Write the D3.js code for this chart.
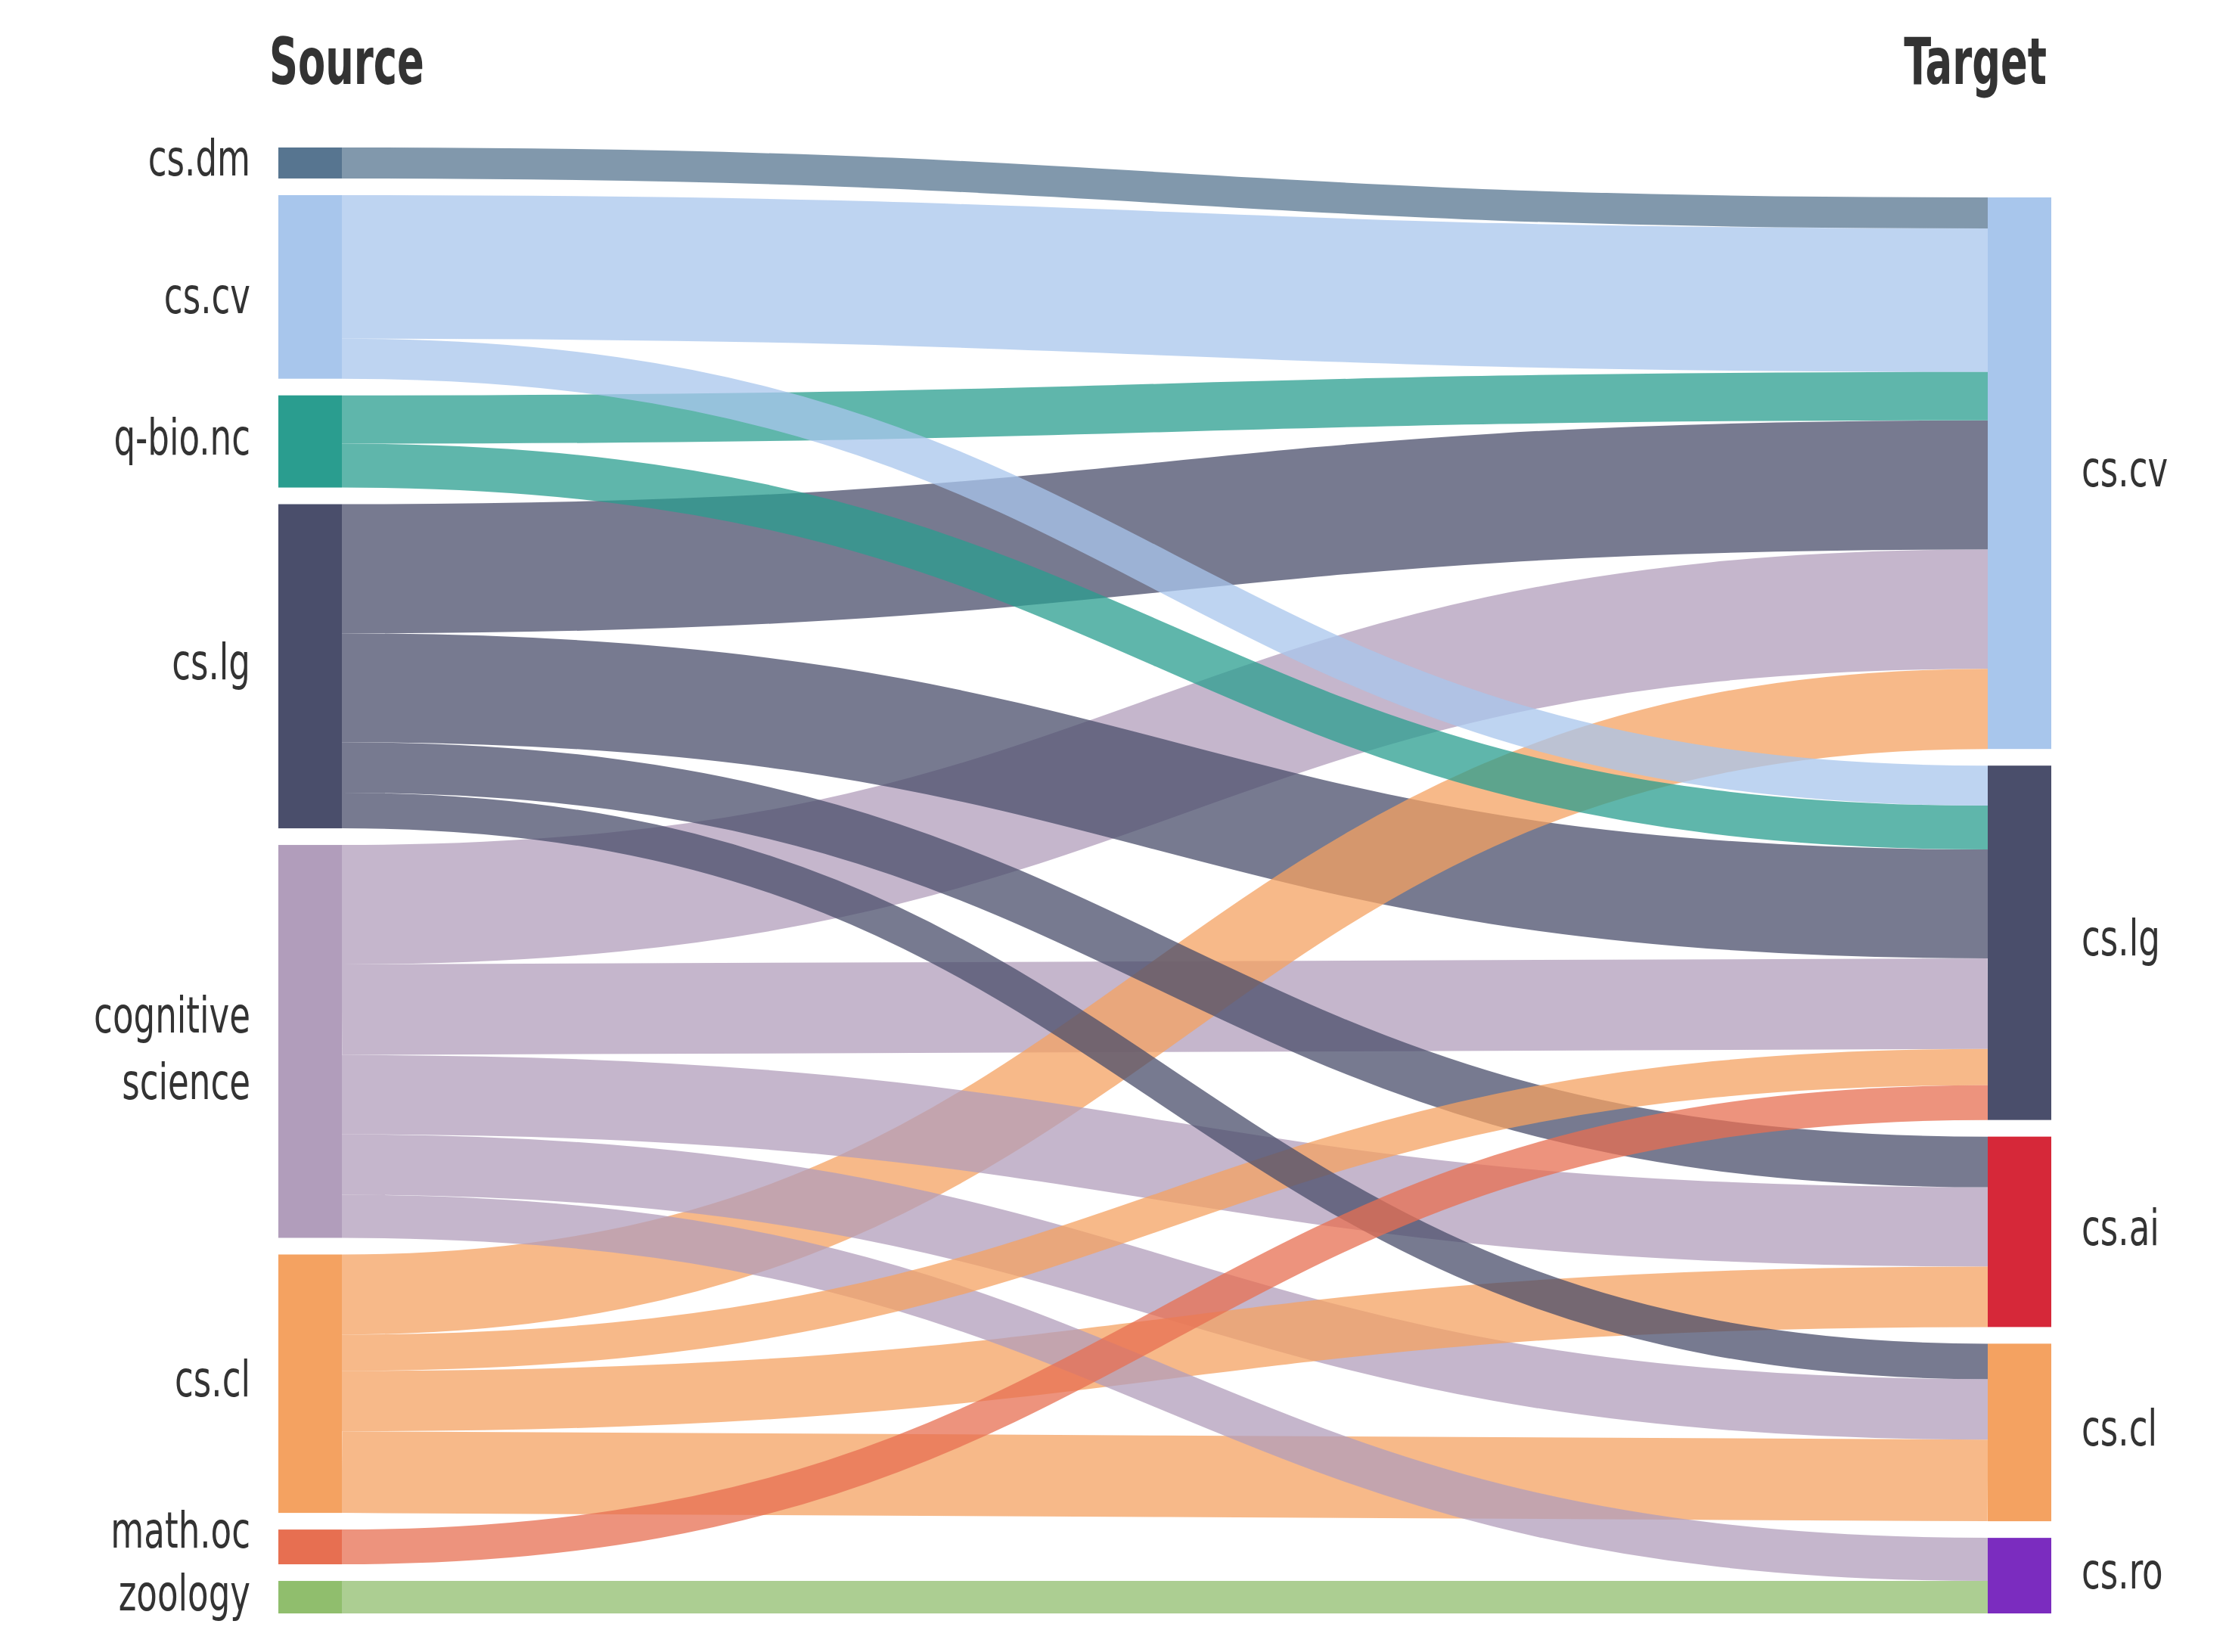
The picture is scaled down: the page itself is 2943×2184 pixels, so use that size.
<!DOCTYPE html>
<html>
<head>
<meta charset="utf-8">
<script src="https://cdn.jsdelivr.net/npm/d3@7"></script>
<style>
  html, body { margin: 0; padding: 0; background: #fff; }
  svg { display: block; }
  text { font-family: 'Liberation Sans Narrow', 'DejaVu Sans Condensed', 'DejaVu Sans', sans-serif; font-stretch: condensed; fill: #333; }
</style>
</head>
<body>
<svg id="chart" width="2943" height="2184"></svg>
<script>
// ---------- data ----------
const sourceNodes = ["cs.dm", "cs.cv", "q-bio.nc", "cs.lg", "cognitive science", "cs.cl", "math.oc", "zoology"];
const targetNodes = ["cs.cv", "cs.lg", "cs.ai", "cs.cl", "cs.ro"];
const linkSource = ["cs.dm", "cs.cv", "cs.cv", "q-bio.nc", "q-bio.nc", "cs.lg", "cs.lg", "cs.lg", "cs.lg",
  "cognitive science", "cognitive science", "cognitive science", "cognitive science", "cognitive science",
  "cs.cl", "cs.cl", "cs.cl", "cs.cl", "math.oc", "zoology"];
const linkTarget = ["cs.cv", "cs.cv", "cs.lg", "cs.cv", "cs.lg", "cs.cv", "cs.lg", "cs.ai", "cs.cl",
  "cs.cv", "cs.lg", "cs.ai", "cs.cl", "cs.ro",
  "cs.cv", "cs.lg", "cs.ai", "cs.cl", "cs.lg", "cs.ro"];
const linkValue = [41, 190, 53, 64, 58, 171, 144, 67, 47, 158, 120, 105, 80, 57, 106, 48, 80, 108, 46, 43];
const nodeColor = {
  "cs.dm": "#577590", "cs.cv": "#a8c6ec", "q-bio.nc": "#2a9d8f", "cs.lg": "#4a4e6b",
  "cognitive science": "#b19dbb", "cs.cl": "#f4a261", "math.oc": "#e76f51", "zoology": "#90be6d",
  "cs.ai": "#d62839", "cs.ro": "#7b2cbf"
};
const columnTitles = ["Source", "Target"];

// ---------- layout ----------
const yTop = 195, yBottom = 2133;
const nodeW = 84, pad = 22;
const xL = 368, xR = 2628;
const svg = d3.select("#chart");

const links = linkSource.map((s, i) => ({ source: s, target: linkTarget[i], value: linkValue[i] }));
const total = d3.sum(linkValue);
const maxN = Math.max(sourceNodes.length, targetNodes.length);
const y = d3.scaleLinear().domain([0, total]).range([0, (yBottom - yTop) - (maxN - 1) * pad]);

function buildColumn(names, key, x, alignBottom) {
  const nodes = names.map(n => ({ name: n, value: d3.sum(links.filter(l => l[key] === n), l => l.value) }));
  const colH = d3.sum(nodes, n => y(n.value)) + (nodes.length - 1) * pad;
  let cy = alignBottom ? yBottom - colH : yTop;
  nodes.forEach(n => { n.x0 = x; n.x1 = x + nodeW; n.y0 = cy; n.y1 = cy + y(n.value); cy = n.y1 + pad; });
  return nodes;
}
const left = buildColumn(sourceNodes, "source", xL, false);
const right = buildColumn(targetNodes, "target", xR, true);
const L = Object.fromEntries(left.map(n => [n.name, n]));
const R = Object.fromEntries(right.map(n => [n.name, n]));

left.forEach(n => {
  let cy = n.y0;
  links.filter(l => l.source === n.name)
    .sort((a, b) => R[a.target].y0 - R[b.target].y0)
    .forEach(l => { l.w = y(l.value); l.sy = cy + l.w / 2; cy += l.w; });
});
right.forEach(n => {
  let cy = n.y0;
  links.filter(l => l.target === n.name)
    .sort((a, b) => L[a.source].y0 - L[b.source].y0)
    .forEach(l => { l.ty = cy + y(l.value) / 2; cy += y(l.value); });
});

const linkGen = d3.linkHorizontal()
  .source(d => [L[d.source].x1, d.sy])
  .target(d => [R[d.target].x0, d.ty]);

svg.append("g")
  .selectAll("path")
  .data(links.slice().sort((a, b) => b.value - a.value))
  .join("path")
  .attr("d", linkGen)
  .attr("fill", "none")
  .attr("stroke", d => nodeColor[d.source])
  .attr("stroke-opacity", 0.75)
  .attr("stroke-width", d => d.w);

svg.append("g")
  .selectAll("rect")
  .data(left.concat(right))
  .join("rect")
  .attr("x", d => d.x0).attr("y", d => d.y0)
  .attr("width", d => d.x1 - d.x0).attr("height", d => d.y1 - d.y0)
  .attr("fill", d => nodeColor[d.name]);

// labels (condensed horizontally to mimic the narrow face of the original)
const fs = 66, sx = 0.76;
const labelNudge = { "cs.cv": 18, "cognitive science": 15, "math.oc": -16 };
const lg = svg.append("g").attr("font-size", fs);
function label(x, yy, txt, anchor, scale, g) {
  return g.append("text")
    .attr("transform", `translate(${x},${yy}) scale(${scale},1)`)
    .attr("text-anchor", anchor)
    .text(txt);
}
left.forEach(n => {
  const words = n.name === "cognitive science" ? ["cognitive", "science"] : [n.name];
  const lh = 88;
  const cy = (n.y0 + n.y1) / 2 + 17 + (labelNudge[n.name] || 0) - (words.length - 1) * lh / 2;
  words.forEach((w, i) => label(n.x0 - 37, cy + i * lh, w, "end", sx, lg));
});
right.forEach(n => label(n.x1 + 40, (n.y0 + n.y1) / 2 + 17, n.name, "start", sx, lg));

const tg = svg.append("g").attr("font-size", 85).attr("font-weight", "bold");
label(356, 111, columnTitles[0], "start", 0.69, tg);
label(2706, 111, columnTitles[1], "end", 0.69, tg);
</script>
</body>
</html>
